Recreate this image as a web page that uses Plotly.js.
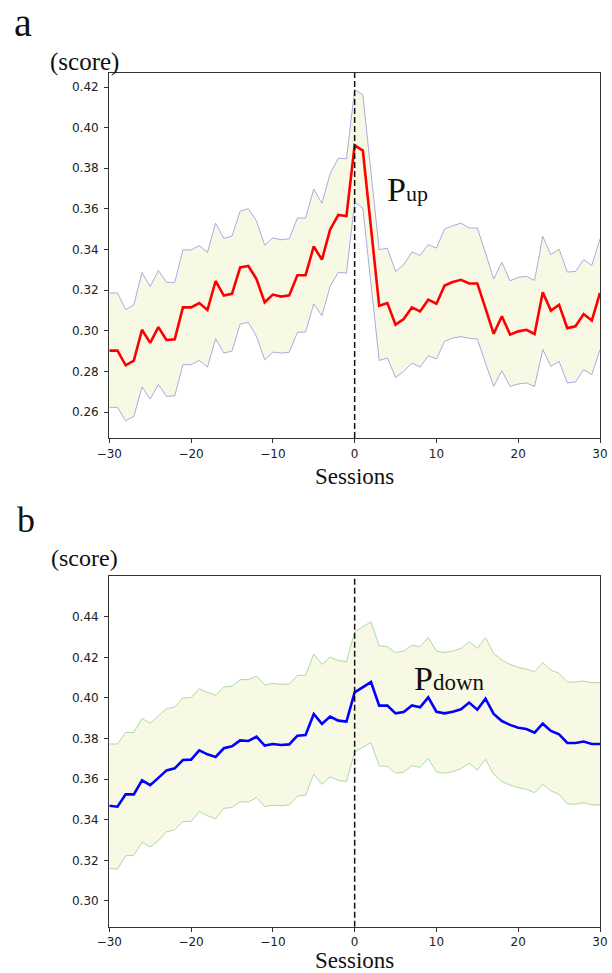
<!DOCTYPE html>
<html>
<head>
<meta charset="utf-8">
<script src="https://cdn.plot.ly/plotly-3.0.1.min.js"></script>
<style>
  html, body { margin: 0; padding: 0; background: #ffffff; }
  #chart { width: 612px; height: 973px; }
</style>
</head>
<body>
<div id="chart"></div>
<script>
// ---- data ----
const sessions = [-30,-29,-28,-27,-26,-25,-24,-23,-22,-21,-20,-19,-18,-17,-16,-15,-14,-13,-12,-11,-10,-9,-8,-7,-6,-5,-4,-3,-2,-1,
                  0,1,2,3,4,5,6,7,8,9,10,11,12,13,14,15,16,17,18,19,20,21,22,23,24,25,26,27,28,29,30];

const upMean = [0.2902,0.2902,0.2830,0.2853,0.3005,0.2940,0.3018,0.2954,0.2958,0.3115,0.3115,0.3136,0.3102,0.3245,0.3173,0.3182,0.3312,0.3319,0.3255,0.3140,0.3178,0.3168,0.3174,0.3273,0.3274,0.3415,0.3350,0.3498,0.3570,0.3565,
                0.3913,0.3887,0.3506,0.3123,0.3136,0.3030,0.3058,0.3115,0.3095,0.3153,0.3133,0.3223,0.3240,0.3251,0.3233,0.3233,0.3110,0.2985,0.3071,0.2981,0.2997,0.3005,0.2984,0.3189,0.3099,0.3128,0.3013,0.3022,0.3082,0.3050,0.3186];
const upUpper = [0.3186,0.3186,0.3104,0.3128,0.3287,0.3217,0.3297,0.3238,0.3238,0.3398,0.3398,0.3419,0.3386,0.3530,0.3455,0.3465,0.3589,0.3601,0.3540,0.3422,0.3457,0.3448,0.3453,0.3555,0.3555,0.3698,0.3627,0.3773,0.3849,0.3847,
                 0.4187,0.4162,0.3780,0.3399,0.3407,0.3292,0.3325,0.3388,0.3371,0.3424,0.3407,0.3501,0.3517,0.3530,0.3506,0.3506,0.3383,0.3255,0.3337,0.3246,0.3263,0.3268,0.3248,0.3465,0.3374,0.3402,0.3289,0.3292,0.3350,0.3322,0.3452];
const upLower = [0.2623,0.2623,0.2557,0.2578,0.2723,0.2664,0.2736,0.2677,0.2679,0.2833,0.2833,0.2854,0.2821,0.2961,0.2890,0.2900,0.3033,0.3041,0.2972,0.2857,0.2895,0.2890,0.2894,0.2992,0.2994,0.3132,0.3074,0.3219,0.3287,0.3284,
                 0.3632,0.3604,0.3230,0.2854,0.2866,0.2770,0.2800,0.2841,0.2821,0.2877,0.2861,0.2948,0.2964,0.2971,0.2963,0.2959,0.2841,0.2726,0.2803,0.2726,0.2738,0.2743,0.2726,0.2907,0.2825,0.2849,0.2743,0.2748,0.2808,0.2784,0.2907];

const downMean = [0.3469,0.3464,0.3525,0.3525,0.3594,0.3570,0.3606,0.3643,0.3653,0.3694,0.3696,0.3742,0.3722,0.3709,0.3752,0.3762,0.3791,0.3788,0.3809,0.3765,0.3773,0.3768,0.3771,0.3814,0.3817,0.3921,0.3872,0.3908,0.3888,0.3883,
                  0.4027,0.4052,0.4078,0.3962,0.3962,0.3924,0.3931,0.3963,0.3954,0.4003,0.3932,0.3924,0.3932,0.3944,0.3977,0.3942,0.3996,0.3921,0.3886,0.3867,0.3853,0.3847,0.3829,0.3873,0.3837,0.3821,0.3778,0.3778,0.3785,0.3773,0.3773];
const downUpper = [0.3773,0.3773,0.3830,0.3830,0.3899,0.3875,0.3911,0.3947,0.3955,0.4000,0.4001,0.4045,0.4027,0.4013,0.4054,0.4057,0.4090,0.4090,0.4108,0.4064,0.4072,0.4067,0.4068,0.4111,0.4111,0.4216,0.4165,0.4201,0.4185,0.4178,
                   0.4325,0.4351,0.4375,0.4257,0.4252,0.4223,0.4231,0.4260,0.4252,0.4298,0.4231,0.4223,0.4231,0.4244,0.4277,0.4244,0.4297,0.4219,0.4187,0.4165,0.4151,0.4142,0.4129,0.4174,0.4137,0.4121,0.4078,0.4078,0.4083,0.4075,0.4075];
const downLower = [0.3161,0.3156,0.3222,0.3225,0.3289,0.3266,0.3297,0.3341,0.3350,0.3391,0.3392,0.3440,0.3420,0.3405,0.3456,0.3460,0.3489,0.3487,0.3509,0.3465,0.3471,0.3469,0.3473,0.3517,0.3520,0.3624,0.3574,0.3611,0.3594,0.3588,
                   0.3733,0.3755,0.3780,0.3665,0.3663,0.3629,0.3634,0.3666,0.3658,0.3702,0.3635,0.3629,0.3637,0.3652,0.3678,0.3645,0.3698,0.3624,0.3588,0.3571,0.3558,0.3550,0.3533,0.3574,0.3542,0.3525,0.3478,0.3476,0.3484,0.3473,0.3473];

const xTicks = [-30, -20, -10, 0, 10, 20, 30];
const yTicksA = [0.26, 0.28, 0.30, 0.32, 0.34, 0.36, 0.38, 0.40, 0.42];
const yTicksB = [0.30, 0.32, 0.34, 0.36, 0.38, 0.40, 0.42, 0.44];
const eventSession = 0;

// ---- styling ----
const W = 612, H = 973;
const px = v => v / W;          // horizontal pixel -> paper
const py = v => 1 - v / H;      // vertical pixel -> paper
const bandFill = 'rgb(248,249,228)';
const tickFont = {family: 'DejaVu Sans', size: 12, color: '#222'};
const serif = 'Liberation Serif';

function bandTraces(xa, ya, upper, lower, mean, edgeColor, meanColor) {
  return [
    {x: sessions, y: upper, xaxis: xa, yaxis: ya, type: 'scatter', mode: 'lines',
     line: {color: edgeColor, width: 0.8}, hoverinfo: 'skip', showlegend: false},
    {x: sessions, y: lower, xaxis: xa, yaxis: ya, type: 'scatter', mode: 'lines',
     line: {color: edgeColor, width: 0.8}, fill: 'tonexty', fillcolor: bandFill,
     hoverinfo: 'skip', showlegend: false},
    {x: sessions, y: mean, xaxis: xa, yaxis: ya, type: 'scatter', mode: 'lines',
     line: {color: meanColor, width: 2.6}, showlegend: false}
  ];
}

const data = [
  ...bandTraces('x', 'y', upUpper, upLower, upMean, 'rgb(150,150,220)', '#ff0000'),
  ...bandTraces('x2', 'y2', downUpper, downLower, downMean, 'rgb(150,210,150)', '#0000ff')
];

function xAxis(anchor) {
  return {
    domain: [px(109.3), px(600)], anchor: anchor, range: [-30, 30],
    tickmode: 'array', tickvals: xTicks, ticks: 'outside', ticklen: 4, tickwidth: 1,
    tickcolor: '#333', showline: true, linecolor: '#333', linewidth: 1.2, mirror: true,
    showgrid: false, zeroline: false, tickfont: tickFont,
    title: {text: 'Sessions', font: {family: serif, size: 23, color: '#111'}, standoff: 8}
  };
}
function yAxis(dom, range, ticks, anchor) {
  return {
    domain: dom, anchor: anchor, range: range,
    tickmode: 'array', tickvals: ticks, tickformat: '.2f', ticks: 'outside', ticklen: 4, tickwidth: 1,
    ticklabelstandoff: 3,
    tickcolor: '#333', showline: true, linecolor: '#333', linewidth: 1.2, mirror: true,
    showgrid: false, zeroline: false, tickfont: tickFont
  };
}

const layout = {
  width: W, height: H,
  margin: {l: 0, r: 0, t: 0, b: 0},
  paper_bgcolor: '#ffffff', plot_bgcolor: '#ffffff',
  showlegend: false,
  xaxis: xAxis('y'),
  yaxis: yAxis([py(438), py(73)], [0.2472, 0.4269], yTicksA, 'x'),
  xaxis2: xAxis('y2'),
  yaxis2: yAxis([py(926.7), py(575.7)], [0.2873, 0.4602], yTicksB, 'x2'),
  shapes: [
    {type: 'line', xref: 'x', yref: 'y domain', x0: eventSession, x1: eventSession, y0: 0, y1: 1,
     line: {color: '#111', width: 1.5, dash: '6px,3px'}},
    {type: 'line', xref: 'x2', yref: 'y2 domain', x0: eventSession, x1: eventSession, y0: 0, y1: 1,
     line: {color: '#111', width: 1.5, dash: '6px,3px'}}
  ],
  annotations: [
    {text: 'a', xref: 'paper', yref: 'paper', x: px(12), y: py(22), xanchor: 'left', yanchor: 'middle',
     showarrow: false, font: {family: serif, size: 40, color: '#111'}},
    {text: '(score)', xref: 'paper', yref: 'paper', x: px(48), y: py(62), xanchor: 'left', yanchor: 'middle',
     showarrow: false, font: {family: serif, size: 25, color: '#111'}},
    {text: 'b', xref: 'paper', yref: 'paper', x: px(15), y: py(520), xanchor: 'left', yanchor: 'middle',
     showarrow: false, font: {family: serif, size: 36, color: '#111'}},
    {text: '(score)', xref: 'paper', yref: 'paper', x: px(49), y: py(558), xanchor: 'left', yanchor: 'middle',
     showarrow: false, font: {family: serif, size: 24, color: '#111'}},
    {text: 'P<span style="font-size:22px">up</span>', xref: 'paper', yref: 'paper', x: px(385), y: py(189),
     xanchor: 'left', yanchor: 'middle', showarrow: false, font: {family: serif, size: 34, color: '#111'}},
    {text: 'P<span style="font-size:23px">down</span>', xref: 'paper', yref: 'paper', x: px(412), y: py(678),
     xanchor: 'left', yanchor: 'middle', showarrow: false, font: {family: serif, size: 34, color: '#111'}}
  ]
};

Plotly.newPlot('chart', data, layout, {staticPlot: true, displayModeBar: false});
</script>
</body>
</html>
